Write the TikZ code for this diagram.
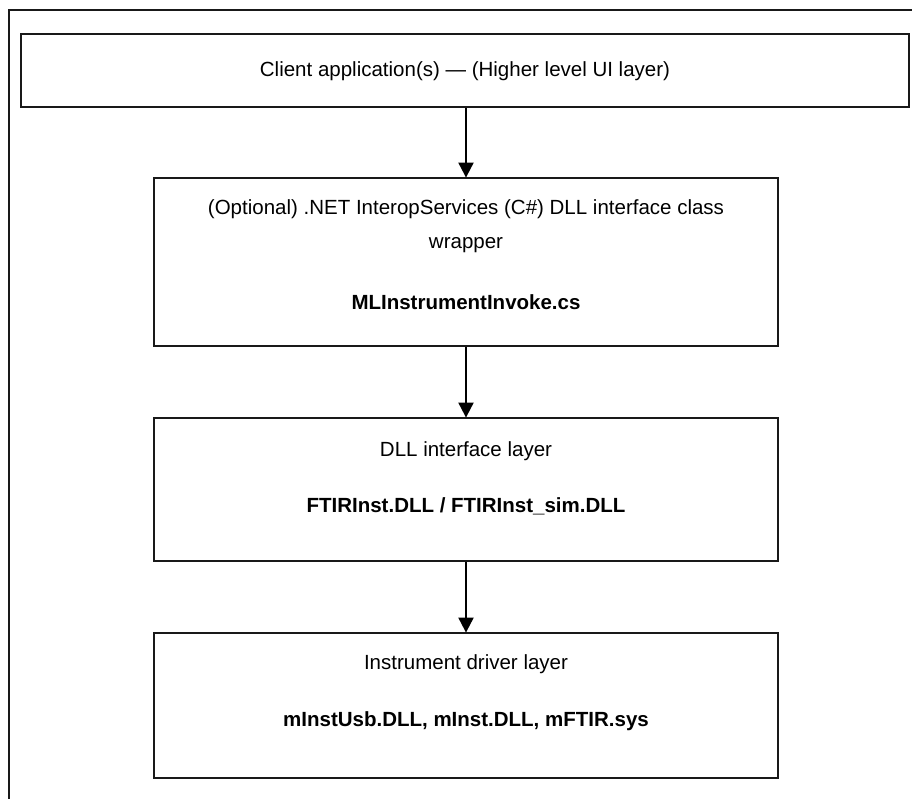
\documentclass[tikz,border=0pt]{standalone}
\usepackage{fontspec}
\setmainfont{Liberation Sans}
\usetikzlibrary{arrows.meta}

\tikzset{
  layerbox/.style={draw=black!90, line width=1.8pt, inner sep=0pt, rectangle},
  flowarrow/.style={draw=black, line width=2pt,
    -{Triangle[length=15pt,width=15pt]}, shorten >=-0.5pt},
  txt/.style={font=\fontsize{20.5}{24}\selectfont, anchor=base, inner sep=0pt},
  btxt/.style={txt, font=\fontsize{20.5}{24}\selectfont\bfseries},
}

\begin{document}
\begin{tikzpicture}[x=1pt, y=-1pt]
  \useasboundingbox (0,0) rectangle (912,799);
  \fill[white] (0,0) rectangle (912,799);
  \clip (0,0) rectangle (912,799);

  % outer frame, running off the page on the right and bottom
  \draw[black!90, line width=1.8pt] (9,830) -- (9,10) -- (940,10);

  % layers
  \node[layerbox, minimum width=888pt, minimum height=73pt] (client) at (465,70.5) {};
  \node[layerbox, minimum width=624pt, minimum height=168pt] (wrap) at (466,262) {};
  \node[layerbox, minimum width=624pt, minimum height=143pt] (dll) at (466,489.5) {};
  \node[layerbox, minimum width=624pt, minimum height=145pt] (drv) at (466,705.5) {};

  % texts
  \node[txt] (t1) at (465,77) {Client application(s) — (Higher level UI layer)};
  \node[txt] (t2a) at (466,215) {(Optional) .NET InteropServices (C\#) DLL interface class};
  \node[txt] (t2b) at (466,249) {wrapper};
  \node[btxt] (t2c) at (466,309) {MLInstrumentInvoke.cs};
  \node[txt] (t3a) at (466,456) {DLL interface layer};
  \node[btxt] (t3b) at (466,512) {FTIRInst.DLL / FTIRInst\_sim.DLL};
  \node[txt] (t4a) at (466,669) {Instrument driver layer};
  \node[btxt] (t4b) at (466,726) {mInstUsb.DLL, mInst.DLL, mFTIR.sys};

  % connectors
  \draw[flowarrow] (client.south -| wrap.north) -- (wrap.north);
  \draw[flowarrow] (wrap.south) -- (dll.north);
  \draw[flowarrow] (dll.south) -- (drv.north);
\end{tikzpicture}
\end{document}
